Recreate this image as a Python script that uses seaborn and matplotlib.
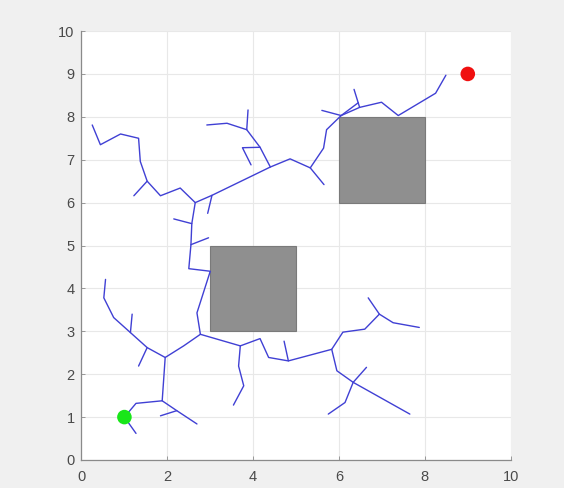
import pandas as pd
import matplotlib.pyplot as plt
import matplotlib.patches as mpatches
import seaborn as sns

# RRT tree; each branch is a polyline of (x, y) nodes
trunk = [(1, 1), (1.27, 1.32), (1.88, 1.38), (1.95, 2.39), (2.38, 2.66), (2.77, 2.93),
         (2.69, 3.43), (3.0, 4.40), (2.50, 4.46), (2.55, 5.02), (2.57, 5.51), (2.65, 6.0),
         (3.04, 6.17), (4.40, 6.83), (4.86, 7.02), (5.33, 6.81), (5.64, 7.27), (5.71, 7.70),
         (6.05, 8.03), (6.48, 8.22), (6.99, 8.34), (7.38, 8.03), (8.25, 8.55), (8.49, 8.97)]
lower_right = [(2.77, 2.93), (3.70, 2.66), (4.16, 2.83), (4.36, 2.39), (4.82, 2.31),
               (5.83, 2.58), (6.09, 2.98), (6.60, 3.05), (6.94, 3.40), (7.26, 3.20), (7.87, 3.09)]
lower_left = [(1.95, 2.39), (1.53, 2.62), (1.14, 2.97), (0.75, 3.32), (0.52, 3.78), (0.56, 4.21)]
upper_left = [(2.65, 6.0), (2.30, 6.34), (1.84, 6.16), (1.53, 6.50), (1.37, 6.96), (1.33, 7.50),
              (0.91, 7.60), (0.44, 7.35), (0.25, 7.81)]
upper_mid = [(4.40, 6.83), (4.16, 7.29), (3.85, 7.70), (3.39, 7.85), (2.92, 7.81)]
down_mid = [(3.70, 2.66), (3.66, 2.19), (3.78, 1.73), (3.54, 1.28)]
down_right = [(5.83, 2.58), (5.95, 2.08), (6.33, 1.81), (7.65, 1.07)]
twigs = [
    [(1, 1), (1.27, 0.62)],
    [(1.88, 1.38), (2.22, 1.15), (2.69, 0.84)],
    [(2.22, 1.15), (1.84, 1.03)],
    [(1.53, 2.62), (1.33, 2.19)],
    [(1.14, 2.97), (1.18, 3.40)],
    [(2.55, 5.02), (2.96, 5.18)],
    [(2.57, 5.51), (2.15, 5.62)],
    [(1.53, 6.50), (1.22, 6.16)],
    [(3.04, 6.17), (2.94, 5.75)],
    [(3.85, 7.70), (3.88, 8.16)],
    [(4.16, 7.29), (3.75, 7.28), (3.95, 6.88)],
    [(5.33, 6.81), (5.65, 6.42)],
    [(6.05, 8.03), (5.60, 8.15)],
    [(6.05, 8.03), (6.45, 8.33)],
    [(6.48, 8.22), (6.35, 8.64)],
    [(6.94, 3.40), (6.68, 3.78)],
    [(4.82, 2.31), (4.72, 2.77)],
    [(6.33, 1.81), (6.64, 2.16)],
    [(6.33, 1.81), (6.14, 1.34), (5.75, 1.07)],
]
branches = [trunk, lower_right, lower_left, upper_left, upper_mid, down_mid, down_right] + twigs

obstacles = [(3, 3, 2, 2), (6, 6, 2, 2)]  # x, y, width, height
start = (1, 1)
goal = (9, 9)

rows = []
for i, br in enumerate(branches):
    for k, (x, y) in enumerate(br):
        rows.append({"branch": i, "order": k, "x": x, "y": y})
df = pd.DataFrame(rows)

sns.set_style("white")
plt.rcParams["font.family"] = ["Liberation Sans", "DejaVu Sans"]

fig = plt.figure(figsize=(5.64, 4.88), dpi=100, facecolor="#f0f0f0")
ax = fig.add_axes([0.1445, 0.0574, 0.761, 0.879])
ax.set_facecolor("white")

for (ox, oy, w, h) in obstacles:
    ax.add_patch(mpatches.Rectangle((ox, oy), w, h, facecolor="#8f8f8f",
                                    edgecolor="#7a7a7a", lw=0.8, zorder=2))

sns.lineplot(data=df, x="x", y="y", units="branch", estimator=None, sort=False,
             color="#4040d4", lw=1.0, ax=ax, zorder=3)

sns.scatterplot(x=[start[0]], y=[start[1]], color="#19e619", s=110, edgecolor="none", ax=ax, zorder=4)
sns.scatterplot(x=[goal[0]], y=[goal[1]], color="#f01010", s=110, edgecolor="none", ax=ax, zorder=4)

ax.set_xlim(0, 10)
ax.set_ylim(0, 10)
ax.set_xticks(range(0, 11, 2))
ax.set_yticks(range(0, 11))
ax.set_xlabel("")
ax.set_ylabel("")
ax.grid(True, color="#e8e8e8", lw=0.8)
ax.set_axisbelow(True)
for s in ["top", "right"]:
    ax.spines[s].set_visible(False)
for s in ["left", "bottom"]:
    ax.spines[s].set_color("#8a8a8a")
    ax.spines[s].set_linewidth(0.9)
ax.tick_params(direction="in", length=3, width=0.6, colors="#8a8a8a", labelcolor="#4a4a4a",
               labelsize=10.5, left=True, bottom=True)
ax.tick_params(axis="x", pad=7)
ax.tick_params(axis="y", pad=5)

fig.savefig("out.png", dpi=100, facecolor=fig.get_facecolor())
